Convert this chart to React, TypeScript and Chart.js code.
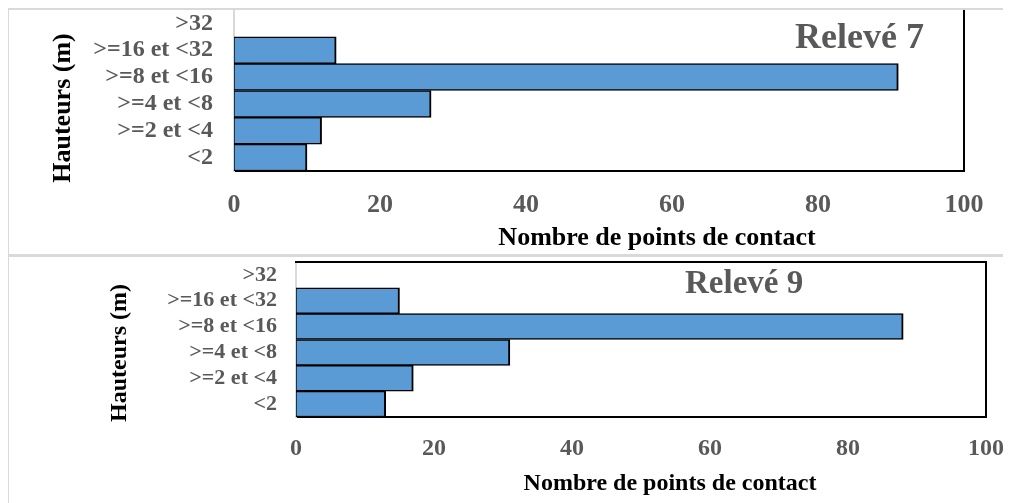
import React, { useEffect, useRef } from "react";
import { Chart, registerables } from "chart.js";

Chart.register(...registerables);

// ---- data ----
const heightClasses = [">32", ">=16 et <32", ">=8 et <16", ">=4 et <8", ">=2 et <4", "<2"];
const releve7Counts = [0, 14, 91, 27, 12, 10];
const releve9Counts = [0, 15, 88, 31, 17, 13];
const xAxisMin = 0;
const xAxisMax = 100;
const xAxisStep = 20;
const xAxisTitle = "Nombre de points de contact";
const yAxisTitle = "Hauteurs (m)";
const panelTitles = ["Relevé 7", "Relevé 9"];

const FONT = "'Liberation Serif', 'Times New Roman', serif";
const BAR_FILL = "#5b9bd5";
const TICK_COLOR = "#595959";

type PanelProps = {
  title: string;
  values: number[];
  width: number;
  height: number;
  plot: { left: number; right: number; top: number; bottom: number };
  yTickSize: number;
  xTickSize: number;
  axisTitleSize: number;
  titleSize: number;
  yTickPad: number;
  xTickPad: number;
  topBorder: boolean;
  titlePos: [number, number];
  yTitlePos: [number, number];
  xTitlePos: [number, number];
};

const panelPlugin = {
  id: "panelText",
  afterDraw(chart: any, _args: any, opts: any) {
    const ctx = chart.ctx as CanvasRenderingContext2D;
    const ca = chart.chartArea;
    ctx.save();
    // plot-area frame (right + optional top)
    ctx.strokeStyle = "#000";
    ctx.lineWidth = 2;
    ctx.beginPath();
    ctx.moveTo(ca.right, ca.bottom + 1);
    ctx.lineTo(ca.right, ca.top);
    if (opts.topBorder) ctx.lineTo(ca.left - 1, ca.top);
    ctx.stroke();

    // chart title
    ctx.fillStyle = TICK_COLOR;
    ctx.font = `bold ${opts.titleSize}px ${FONT}`;
    ctx.textAlign = "left";
    ctx.textBaseline = "alphabetic";
    ctx.fillText(opts.title, opts.titlePos[0], opts.titlePos[1]);

    // x axis title
    ctx.fillStyle = "#000";
    ctx.font = `bold ${opts.axisTitleSize}px ${FONT}`;
    ctx.textAlign = "center";
    ctx.fillText(opts.xTitle, opts.xTitlePos[0], opts.xTitlePos[1]);

    // y axis title (rotated)
    ctx.translate(opts.yTitlePos[0], opts.yTitlePos[1]);
    ctx.rotate(-Math.PI / 2);
    ctx.fillText(opts.yTitle, 0, 0);
    ctx.restore();
  },
};

function BarPanel(p: PanelProps) {
  const ref = useRef<HTMLCanvasElement | null>(null);
  useEffect(() => {
    if (!ref.current) return;
    const yWidth = p.plot.left;
    const xHeight = p.height - p.plot.bottom;
    const chart = new Chart(ref.current, {
      type: "bar",
      data: {
        labels: heightClasses,
        datasets: [
          {
            data: p.values,
            backgroundColor: BAR_FILL,
            borderColor: "#000",
            borderWidth: { top: 1.5, bottom: 1.5, left: 1, right: 2 },
            borderSkipped: false,
            barPercentage: 1,
            categoryPercentage: 1,
          },
        ],
      },
      options: {
        indexAxis: "y",
        animation: false,
        responsive: false,
        maintainAspectRatio: false,
        events: [],
        layout: {
          padding: { left: 0, right: p.width - p.plot.right, top: p.plot.top, bottom: 0 },
        },
        plugins: {
          legend: { display: false },
          tooltip: { enabled: false },
          title: { display: false },
          panelText: {
            title: p.title,
            titleSize: p.titleSize,
            titlePos: p.titlePos,
            axisTitleSize: p.axisTitleSize,
            xTitle: xAxisTitle,
            yTitle: yAxisTitle,
            xTitlePos: p.xTitlePos,
            yTitlePos: p.yTitlePos,
            topBorder: p.topBorder,
          },
        } as any,
        scales: {
          x: {
            type: "linear",
            min: xAxisMin,
            max: xAxisMax,
            grid: { display: false, drawTicks: false },
            border: { display: true, color: "#000", width: 2 },
            ticks: {
              stepSize: xAxisStep,
              padding: p.xTickPad,
              color: TICK_COLOR,
              font: { family: FONT, size: p.xTickSize, weight: "bold" },
              maxRotation: 0,
            },
            afterFit: (s: any) => {
              s.height = xHeight;
              s.paddingLeft = 0;
              s.paddingRight = 0;
            },
          },
          y: {
            type: "category",
            grid: { display: false, drawTicks: false },
            border: { display: true, color: "#d9d9d9", width: 2 },
            ticks: {
              padding: p.yTickPad,
              color: TICK_COLOR,
              font: { family: FONT, size: p.yTickSize, weight: "bold" },
              autoSkip: false,
            },
            afterFit: (s: any) => {
              s.width = yWidth;
              s.paddingTop = 0;
              s.paddingBottom = 0;
            },
          },
        },
      },
      plugins: [panelPlugin],
    } as any);
    return () => chart.destroy();
  }, []);
  return (
    <canvas
      ref={ref}
      width={p.width}
      height={p.height}
      style={{ display: "block", width: p.width, height: p.height }}
    />
  );
}

const GRAY = "#d9d9d9";

export default function App() {
  return (
    <div style={{ position: "relative", width: 1003, height: 495 }}>
      <div style={{ position: "absolute", left: 0, top: 0, width: 1003, height: 2, background: GRAY }} />
      <div style={{ position: "absolute", left: -1, top: 0, width: 2, height: 495, background: GRAY }} />
      <div style={{ position: "absolute", left: 0, top: 246, width: 1003, height: 3, background: GRAY }} />
      <div style={{ position: "absolute", left: 0, top: 0 }}>
        <BarPanel
          title={panelTitles[0]}
          values={releve7Counts}
          width={1003}
          height={246}
          plot={{ left: 226, right: 956, top: 2, bottom: 163 }}
          yTickSize={24}
          xTickSize={26}
          axisTitleSize={26}
          titleSize={36}
          yTickPad={21}
          xTickPad={19}
          topBorder={false}
          titlePos={[787, 40]}
          xTitlePos={[649, 237]}
          yTitlePos={[62, 100]}
        />
      </div>
      <div style={{ position: "absolute", left: 0, top: 249 }}>
        <BarPanel
          title={panelTitles[1]}
          values={releve9Counts}
          width={1003}
          height={246}
          plot={{ left: 288, right: 978, top: 5, bottom: 160 }}
          yTickSize={22}
          xTickSize={24}
          axisTitleSize={24}
          titleSize={33}
          yTickPad={19}
          xTickPad={17}
          topBorder={true}
          titlePos={[677, 36]}
          xTitlePos={[662, 233]}
          yTitlePos={[118, 96]}
        />
      </div>
    </div>
  );
}
